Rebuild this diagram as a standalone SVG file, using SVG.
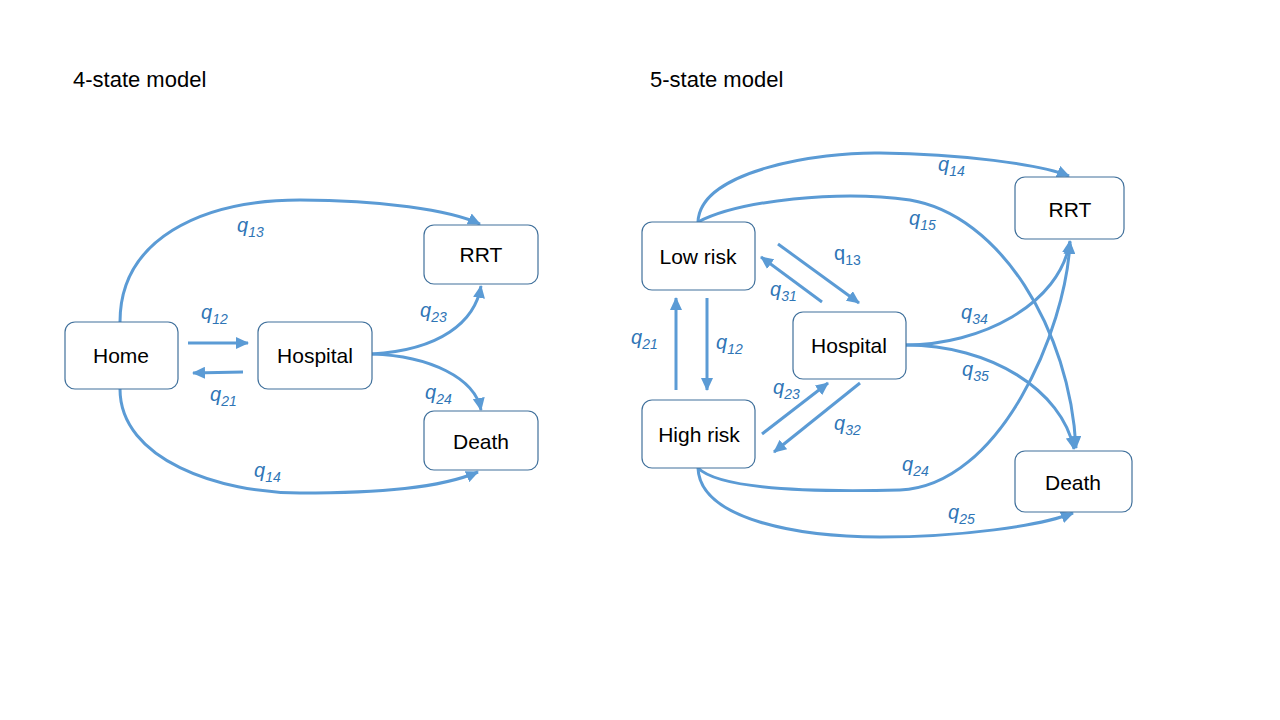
<svg xmlns="http://www.w3.org/2000/svg" width="1280" height="720" viewBox="0 0 1280 720">
<defs>
<marker id="ah" markerUnits="userSpaceOnUse" markerWidth="14" markerHeight="12" refX="12" refY="6" orient="auto">
<path d="M0,0 L13,6 L0,12 Z" fill="#5B9BD5"/>
</marker>
<style>
.box{fill:#fff;stroke:#41719C;stroke-width:1.2}
.nt{font-family:"Liberation Sans",Arial,sans-serif;font-size:21px;fill:#000;text-anchor:middle}
.title{font-family:"Liberation Sans",Arial,sans-serif;font-size:22px;fill:#000}
.c{fill:none;stroke:#5B9BD5;stroke-width:3;marker-end:url(#ah)}
.lb{font-family:"Liberation Sans",Arial,sans-serif;font-size:20px;font-style:italic;fill:#2E75B6}
.lb tspan{font-size:14px}
.up{font-style:normal}
</style>
</defs>
<rect width="1280" height="720" fill="#fff"/>
<text class="title" x="73" y="87">4-state model</text>
<text class="title" x="650" y="87">5-state model</text>

<g id="connectors">
<path class="c" d="M120,322 C120,240 200,200 300,200 C380,200 450,210 480,224"/>
<path class="c" d="M188,343 L248,343"/>
<path class="c" d="M243,372 L193,373"/>
<path class="c" d="M372,354 C440,350 475,322 481,286"/>
<path class="c" d="M372,354 C430,356 475,378 481,410"/>
<path class="c" d="M120,389 C120,460 220,493 300,493 C380,493 440,488 478,472"/>

<path class="c" d="M698,222 C700,170 820,152 880,153 C960,154 1040,164 1069,176"/>
<path class="c" d="M698,222 C740,200 840,190 910,200 C1000,215 1070,330 1076,448"/>
<path class="c" d="M778,244 L859,303"/>
<path class="c" d="M822,302 L761,257"/>
<path class="c" d="M676,390 L676,298"/>
<path class="c" d="M707,298 L707,390"/>
<path class="c" d="M762,434 L828,383"/>
<path class="c" d="M860,383 L774,452"/>
<path class="c" d="M906,345 C980,345 1060,305 1070,241"/>
<path class="c" d="M906,345 C990,345 1062,390 1074,449"/>
<path class="c" d="M698,468 C720,490 820,492 900,490 C1000,486 1066,330 1070,242"/>
<path class="c" d="M698,468 C700,520 800,537 880,537 C960,537 1040,526 1073,513"/>
</g>

<g id="home"><rect class="box" x="65" y="322" width="113" height="67" rx="10"/><text class="nt" x="121" y="363">Home</text></g>
<g id="hospital4"><rect class="box" x="258" y="322" width="114" height="67" rx="10"/><text class="nt" x="315" y="363">Hospital</text></g>
<g id="rrt4"><rect class="box" x="424" y="225" width="114" height="59" rx="10"/><text class="nt" x="481" y="262">RRT</text></g>
<g id="death4"><rect class="box" x="424" y="411" width="114" height="59" rx="10"/><text class="nt" x="481" y="449">Death</text></g>

<g id="lowrisk"><rect class="box" x="642" y="222" width="113" height="68" rx="10"/><text class="nt" x="698" y="264">Low risk</text></g>
<g id="highrisk"><rect class="box" x="642" y="400" width="113" height="68" rx="10"/><text class="nt" x="699" y="442">High risk</text></g>
<g id="hospital5"><rect class="box" x="793" y="312" width="113" height="67" rx="10"/><text class="nt" x="849" y="353">Hospital</text></g>
<g id="rrt5"><rect class="box" x="1015" y="177" width="109" height="62" rx="10"/><text class="nt" x="1070" y="217">RRT</text></g>
<g id="death5"><rect class="box" x="1015" y="451" width="117" height="61" rx="10"/><text class="nt" x="1073" y="490">Death</text></g>

<g id="labels">
<text class="lb" x="237" y="232">q<tspan dy="5">13</tspan></text>
<text class="lb" x="201" y="319">q<tspan dy="5">12</tspan></text>
<text class="lb" x="210" y="401">q<tspan dy="5">21</tspan></text>
<text class="lb" x="420" y="317">q<tspan dy="5">23</tspan></text>
<text class="lb" x="425" y="399">q<tspan dy="5">24</tspan></text>
<text class="lb" x="254" y="477">q<tspan dy="5">14</tspan></text>

<text class="lb" x="938" y="171">q<tspan dy="5">14</tspan></text>
<text class="lb" x="909" y="225">q<tspan dy="5">15</tspan></text>
<text class="lb up" x="834" y="260">q<tspan dy="5">13</tspan></text>
<text class="lb" x="770" y="296">q<tspan dy="5">31</tspan></text>
<text class="lb" x="631" y="344">q<tspan dy="5">21</tspan></text>
<text class="lb" x="716" y="349">q<tspan dy="5">12</tspan></text>
<text class="lb" x="961" y="319">q<tspan dy="5">34</tspan></text>
<text class="lb" x="962" y="376">q<tspan dy="5">35</tspan></text>
<text class="lb" x="773" y="394">q<tspan dy="5">23</tspan></text>
<text class="lb" x="834" y="430">q<tspan dy="5">32</tspan></text>
<text class="lb" x="902" y="471">q<tspan dy="5">24</tspan></text>
<text class="lb" x="948" y="519">q<tspan dy="5">25</tspan></text>
</g>
</svg>
